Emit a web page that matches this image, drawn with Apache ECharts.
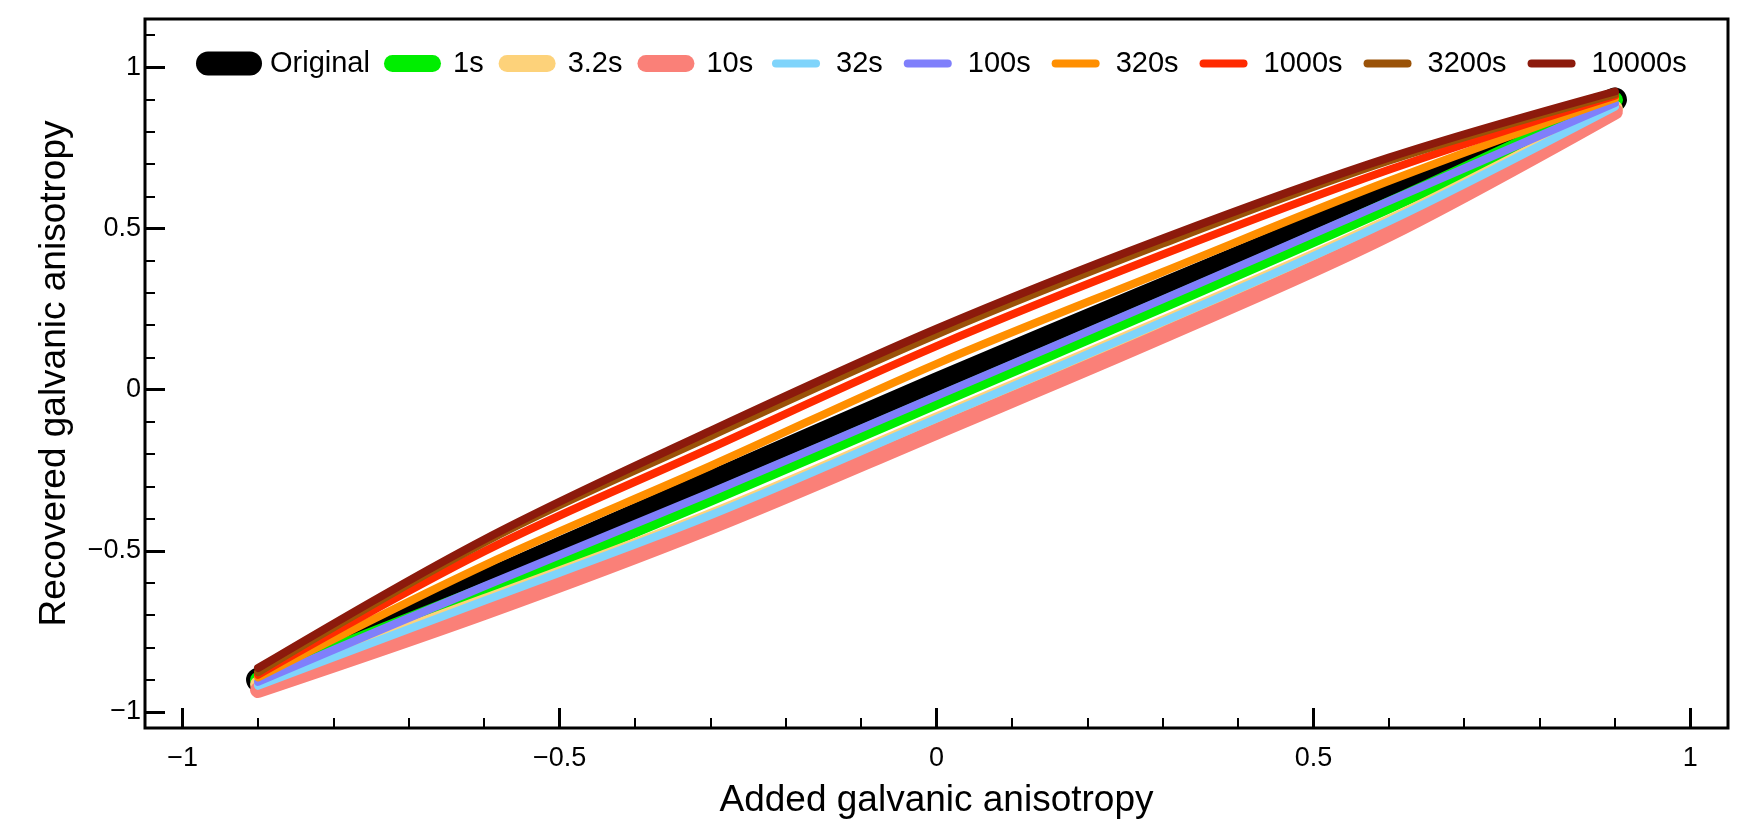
<!DOCTYPE html>
<html><head><meta charset="utf-8">
<script src="https://cdn.jsdelivr.net/npm/echarts@6/dist/echarts.min.js"></script>
<style>html,body{margin:0;padding:0;background:#fff}#c{width:1750px;height:834px}</style>
</head><body><div id="c"></div>
<script>
// ---- data ----
const xValues = [-0.9, -0.6, -0.3, 0, 0.3, 0.6, 0.9];
const seriesNames = ['Original', '1s', '3.2s', '10s', '32s', '100s', '320s', '1000s', '3200s', '10000s'];
const yOriginal = [-0.9, -0.597, -0.29, 0.015, 0.31, 0.603, 0.9];
const y1s     = [-0.9, -0.625, -0.335, -0.035, 0.265, 0.572, 0.899];
const y3_2s   = [-0.915, -0.66, -0.396, -0.096, 0.204, 0.516, 0.872];
const y10s    = [-0.932, -0.69, -0.425, -0.13, 0.168, 0.484, 0.863];
const y32s    = [-0.919, -0.655, -0.39, -0.09, 0.21, 0.522, 0.878];
const y100s   = [-0.907, -0.61, -0.32, -0.02, 0.28, 0.585, 0.889];
const y320s   = [-0.893, -0.545, -0.237, 0.08, 0.365, 0.647, 0.904];
const y1000s  = [-0.885, -0.502, -0.182, 0.135, 0.419, 0.682, 0.912];
const y3200s  = [-0.877, -0.474, -0.145, 0.171, 0.453, 0.71, 0.917];
const y10000s = [-0.864, -0.465, -0.128, 0.189, 0.469, 0.72, 0.925];
const xMajorTicks = [-1, -0.5, 0, 0.5, 1];
const xMinorTicks = [-1, -0.9, -0.8, -0.7, -0.6, -0.5, -0.4, -0.3, -0.2, -0.1, 0, 0.1, 0.2, 0.3, 0.4, 0.5, 0.6, 0.7, 0.8, 0.9, 1];
const yMajorTicks = [-1, -0.5, 0, 0.5, 1];
const yMinorTicks = [-1, -0.9, -0.8, -0.7, -0.6, -0.5, -0.4, -0.3, -0.2, -0.1, 0, 0.1, 0.2, 0.3, 0.4, 0.5, 0.6, 0.7, 0.8, 0.9, 1, 1.1];

// ---- styles ----
const allY = [yOriginal, y1s, y3_2s, y10s, y32s, y100s, y320s, y1000s, y3200s, y10000s];
const colors = ['#000000', '#00ee00', '#fdd27a', '#fa8078', '#7fd4fb', '#7f7ffb', '#ff8f00', '#ff2a00', '#9a5208', '#8c1a0c'];
const widths = [24, 16, 16, 16, 8, 8, 8, 8, 8, 8];
const FONT = 'Liberation Sans, Arial, Helvetica, sans-serif';

function pill(w, h) {
  const r = h / 2;
  return 'path://M' + r + ',0 L' + (w - r) + ',0 A' + r + ',' + r + ' 0 0 1 ' + (w - r) + ',' + h +
    ' L' + r + ',' + h + ' A' + r + ',' + r + ' 0 0 1 ' + r + ',0 Z';
}

const series = seriesNames.map((name, i) => ({
  name: name,
  type: 'line',
  data: xValues.map((x, k) => [x, allY[i][k]]),
  smooth: 0.35,
  showSymbol: false,
  symbol: 'none',
  color: colors[i],
  lineStyle: { width: widths[i], color: colors[i], cap: 'round', join: 'round' },
  emphasis: { disabled: true },
  xAxisIndex: 0, yAxisIndex: 0
}));

function legend(names, left, w, h, gap, pad) {
  return {
    data: names, left: left, top: 49, orient: 'horizontal', padding: 0,
    itemWidth: w, itemHeight: h, itemGap: gap, icon: pill(w, h),
    selectedMode: false,
    itemStyle: { borderWidth: 0 },
    textStyle: { fontSize: 29, fontFamily: FONT, color: '#000', padding: [0, 0, 0, pad] }
  };
}

const fmt = v => String(v).replace('-', '\u2212');
const tickLabel = { fontSize: 27, fontFamily: FONT, color: '#000', formatter: fmt };

const option = {
  animation: false,
  backgroundColor: '#fff',
  grid: { left: 145, right: 22, top: 19, bottom: 106, show: true, borderColor: '#000', borderWidth: 3, backgroundColor: 'transparent' },
  legend: [
    legend(['Original'], 196, 66, 24, 10, 3),
    legend(['1s', '3.2s', '10s'], 384, 57, 17, 15, 7),
    legend(['32s', '100s', '320s', '1000s', '3200s', '10000s'], 772, 48, 8, 21, 11)
  ],
  xAxis: [
    {
      type: 'value', min: -1.05, max: 1.05, position: 'bottom',
      axisLine: { show: false, onZero: false }, splitLine: { show: false },
      axisTick: { show: true, inside: true, length: 20, lineStyle: { width: 3, color: '#000' }, customValues: xMajorTicks },
      axisLabel: Object.assign({ customValues: xMajorTicks, margin: 17 }, tickLabel),
      name: 'Added galvanic anisotropy', nameLocation: 'middle', nameGap: 54,
      nameTextStyle: { fontSize: 37, fontFamily: FONT, color: '#000' }
    },
    {
      type: 'value', min: -1.05, max: 1.05, position: 'bottom',
      axisLine: { show: false, onZero: false }, splitLine: { show: false },
      axisTick: { show: true, inside: true, length: 10, lineStyle: { width: 2, color: '#000' }, customValues: xMinorTicks },
      axisLabel: { show: false }
    }
  ],
  yAxis: [
    {
      type: 'value', min: -1.05, max: 1.15, position: 'left',
      axisLine: { show: false, onZero: false }, splitLine: { show: false },
      axisTick: { show: true, inside: true, length: 20, lineStyle: { width: 3, color: '#000' }, customValues: yMajorTicks },
      axisLabel: Object.assign({ customValues: yMajorTicks, margin: 4 }, tickLabel),
      name: 'Recovered galvanic anisotropy', nameLocation: 'middle', nameGap: 72,
      nameTextStyle: { fontSize: 37, fontFamily: FONT, color: '#000' }
    },
    {
      type: 'value', min: -1.05, max: 1.15, position: 'left',
      axisLine: { show: false, onZero: false }, splitLine: { show: false },
      axisTick: { show: true, inside: true, length: 10, lineStyle: { width: 2, color: '#000' }, customValues: yMinorTicks },
      axisLabel: { show: false }
    }
  ],
  series: series
};

const chart = echarts.init(document.getElementById('c'), null, { renderer: 'canvas' });
chart.setOption(option);
</script>
</body></html>
